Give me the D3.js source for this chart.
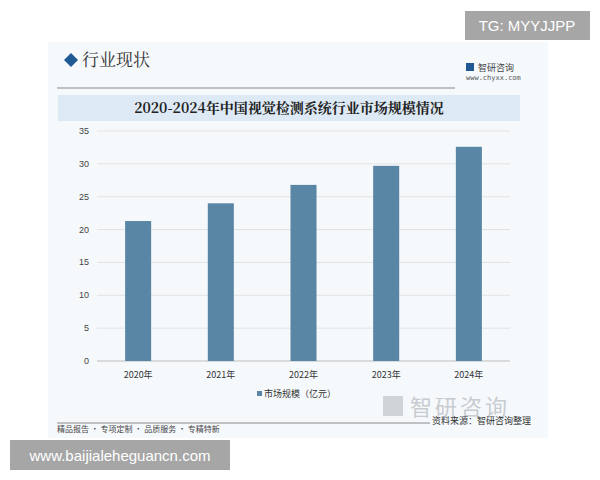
<!DOCTYPE html>
<html><head><meta charset="utf-8">
<script src="https://cdn.jsdelivr.net/npm/d3@7"></script>
<style>body{margin:0;background:#fff}</style>
</head><body><svg id="c" width="600" height="480"></svg>
<script>
const years = ["2020年","2021年","2022年","2023年","2024年"];
const marketSize = [21.3, 24.0, 26.8, 29.7, 32.6];
const yTicks = [0,5,10,15,20,25,30,35];

const svg = d3.select("#c");
const cn = "'Noto Sans CJK SC', sans-serif";
const serif = "'Noto Serif CJK SC','Noto Sans CJK SC', serif";

// panel background
svg.append("rect").attr("x",48).attr("y",42).attr("width",500).attr("height",396).attr("fill","#f6f9fc");
// header
svg.append("path").attr("d","M64,60 l7,-7 l7,7 l-7,7z").attr("fill","#1f5a94");
svg.append("text").attr("x",82).attr("y",66).attr("font-family",serif).attr("font-size",17).attr("fill","#333").text("行业现状");
svg.append("line").attr("x1",57).attr("x2",455).attr("y1",88).attr("y2",88).attr("stroke","#888");
svg.append("text").attr("x",478).attr("y",71).attr("font-family",cn).attr("font-size",9).attr("fill","#444").text("智研咨询");
svg.append("rect").attr("x",466).attr("y",63).attr("width",8).attr("height",8).attr("fill","#1f5a94");
svg.append("text").attr("x",466).attr("y",80).attr("font-family","DejaVu Sans Mono").attr("font-size",7).attr("fill","#555").text("www.chyxx.com");
// title band
svg.append("rect").attr("x",58).attr("y",95).attr("width",462).attr("height",26).attr("fill","#dde9f4");
svg.append("text").attr("x",289).attr("y",113).attr("text-anchor","middle").attr("font-family",serif).attr("font-weight","bold").attr("font-size",14).attr("fill","#222").text("2020-2024年中国视觉检测系统行业市场规模情况");

const x = d3.scaleBand().domain(years).range([97,510]).paddingInner(0.685).paddingOuter(0.34);
const y = d3.scaleLinear().domain([0,35]).range([361,131]);

const g = svg.append("g");
g.selectAll("line.grid").data(yTicks).join("line")
  .attr("x1",97).attr("x2",510).attr("y1",d=>y(d)).attr("y2",d=>y(d))
  .attr("stroke",d=>d===0?"#bbb":"#e2e2e2");
g.selectAll("text.yt").data(yTicks).join("text")
  .attr("x",89).attr("y",d=>y(d)+3).attr("text-anchor","end")
  .attr("font-family","Liberation Sans").attr("font-size",9).attr("fill","#444").text(d=>d);
g.selectAll("rect.bar").data(marketSize).join("rect")
  .attr("x",(d,i)=>x(years[i])).attr("width",x.bandwidth())
  .attr("y",d=>y(d)).attr("height",d=>y(0)-y(d)).attr("fill","#5a86a6");
g.selectAll("text.xt").data(years).join("text")
  .attr("x",d=>x(d)+x.bandwidth()/2).attr("y",378).attr("text-anchor","middle")
  .attr("font-family",cn).attr("font-size",9).attr("fill","#333").text(d=>d);
// legend
svg.append("rect").attr("x",257).attr("y",391).attr("width",5).attr("height",5).attr("fill","#5a86a6");
svg.append("text").attr("x",264).attr("y",397).attr("font-family",cn).attr("font-size",9).attr("fill","#333").text("市场规模（亿元）");
// watermark logo
svg.append("text").attr("x",410).attr("y",415).attr("font-family",cn).attr("font-size",22).attr("fill","#c8ccd0").attr("letter-spacing",3).text("智研咨询");
svg.append("rect").attr("x",383).attr("y",396).attr("width",20).attr("height",20).attr("fill","#d0d4d8");
// footer
svg.append("line").attr("x1",57).attr("x2",430).attr("y1",423).attr("y2",423).attr("stroke","#888");
svg.append("text").attr("x",432).attr("y",424).attr("font-family",cn).attr("font-size",9).attr("fill","#333").text("资料来源：智研咨询整理");
svg.append("text").attr("x",57).attr("y",432).attr("font-family",cn).attr("font-size",8).attr("fill","#444").text("精品报告 · 专项定制 · 品质服务 · 专精特新");
// overlay boxes
svg.append("rect").attr("x",465).attr("y",11).attr("width",125).attr("height",29).attr("fill","#a6a6a6");
svg.append("text").attr("x",527).attr("y",31).attr("text-anchor","middle").attr("font-family","Liberation Sans").attr("font-size",15).attr("fill","#fff").text("TG: MYYJJPP");
svg.append("rect").attr("x",10).attr("y",440).attr("width",220).attr("height",30).attr("fill","#a6a6a6");
svg.append("text").attr("x",120).attr("y",461).attr("text-anchor","middle").attr("font-family","Liberation Sans").attr("font-size",15).attr("fill","#fff").text("www.baijialeheguancn.com");
</script></body></html>
